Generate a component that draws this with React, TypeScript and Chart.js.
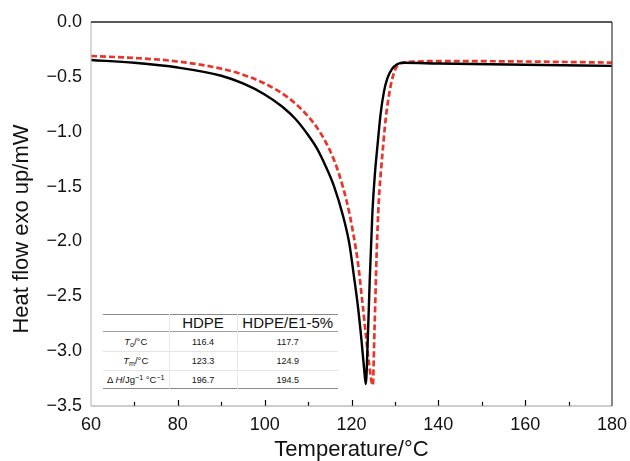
import React, { useEffect, useRef } from "react";
import { Chart, registerables } from "chart.js";

Chart.register(...registerables);

// HDPE (black, solid)
const hdpeT = [60, 70, 80, 90, 95, 100, 104, 107, 110, 112, 114, 116, 118, 119.5, 120.5, 121.5, 122.3, 122.9, 123.3, 123.7, 124.2, 124.8, 125.4, 126.0, 126.7, 127.5, 128.3, 129.3, 130.5, 132, 140, 160, 180];
const hdpeHF = [-0.346, -0.372, -0.415, -0.49, -0.56, -0.66, -0.77, -0.88, -1.03, -1.15, -1.31, -1.5, -1.76, -2.02, -2.3, -2.6, -2.9, -3.16, -3.3, -2.95, -2.35, -1.75, -1.38, -1.12, -0.84, -0.63, -0.51, -0.43, -0.385, -0.372, -0.378, -0.39, -0.4];

// HDPE/E1-5% (red, dashed)
const e15T = [60, 70, 80, 90, 95, 100, 104, 107, 110, 112, 114, 116, 118, 119.5, 120.5, 121.5, 122.5, 123.3, 124.0, 124.9, 125.3, 125.8, 126.3, 126.8, 127.2, 127.7, 128.2, 128.8, 129.3, 130, 130.7, 132, 134.2, 140, 160, 180];
const e15HF = [-0.31, -0.328, -0.36, -0.425, -0.48, -0.56, -0.65, -0.74, -0.86, -0.96, -1.09, -1.26, -1.5, -1.74, -1.95, -2.2, -2.55, -2.85, -3.1, -3.31, -2.8, -2.1, -1.62, -1.35, -1.17, -0.95, -0.78, -0.63, -0.53, -0.44, -0.39, -0.37, -0.362, -0.356, -0.36, -0.37];

const xMin = 60, xMax = 180, xMajorStep = 20, xMinorStep = 10;
const yMin = -3.5, yMax = 0, yStep = 0.5;
const xTitle = "Temperature/°C";
const yTitle = "Heat flow exo up/mW";

const tableHeader = ["", "HDPE", "HDPE/E1-5%"];
const tableHDPE = ["116.4", "123.3", "196.7"];
const tableE15 = ["117.7", "124.9", "194.5"];

const FONT = "'Liberation Sans', Arial, Helvetica, sans-serif";

const framePlugin = {
  id: "frame",
  afterDatasetsDraw(chart: any) {
    const { ctx, chartArea: a, scales } = chart;
    const xs = scales.x;
    ctx.save();
    ctx.strokeStyle = "#000";
    ctx.lineWidth = 1.2;
    for (let v = xMin + xMinorStep; v < xMax; v += xMinorStep) {
      const px = Math.round(xs.getPixelForValue(v)) + 0.5;
      const len = (v - xMin) % xMajorStep === 0 ? 6 : 4;
      ctx.beginPath();
      ctx.moveTo(px, a.bottom);
      ctx.lineTo(px, a.bottom - len);
      ctx.stroke();
    }
    const line = (x1: number, y1: number, x2: number, y2: number, c: string, w: number) => {
      ctx.strokeStyle = c;
      ctx.lineWidth = w;
      ctx.beginPath();
      ctx.moveTo(x1, y1);
      ctx.lineTo(x2, y2);
      ctx.stroke();
    };
    line(a.left, a.bottom, a.right, a.bottom, "#9a9a9a", 1.2);
    line(a.left, a.top, a.left, a.bottom, "#bdbdbd", 1.2);
    line(a.right, a.top, a.right, a.bottom, "#555", 1.4);
    line(a.left, a.top, a.right, a.top, "#222", 1.6);
    // y-axis title, slightly below the plot's centre as in the reference
    ctx.fillStyle = "#111";
    ctx.font = `22px ${FONT}`;
    ctx.textAlign = "center";
    ctx.textBaseline = "middle";
    ctx.translate(22, (a.top + a.bottom) / 2 + 15);
    ctx.rotate(-Math.PI / 2);
    ctx.fillText(yTitle, 0, 0);
    ctx.restore();
  },
};

export default function App() {
  const ref = useRef<HTMLCanvasElement | null>(null);

  useEffect(() => {
    if (!ref.current) return;
    const chart = new Chart(ref.current, {
      type: "scatter",
      data: {
        datasets: [
          {
            label: "HDPE",
            data: hdpeT.map((t, i) => ({ x: t, y: hdpeHF[i] })),
            showLine: true,
            borderColor: "#000",
            borderWidth: 2.4,
            pointRadius: 0,
            cubicInterpolationMode: "monotone",
          },
          {
            label: "HDPE/E1-5%",
            data: e15T.map((t, i) => ({ x: t, y: e15HF[i] })),
            showLine: true,
            borderColor: "#e8352b",
            borderWidth: 2.7,
            borderDash: [6, 3],
            pointRadius: 0,
            cubicInterpolationMode: "monotone",
          },
        ],
      },
      options: {
        animation: false,
        responsive: false,
        maintainAspectRatio: false,
        layout: { padding: { left: 0, right: 18, top: 22, bottom: 0 } },
        plugins: { legend: { display: false }, tooltip: { enabled: false } },
        scales: {
          x: {
            type: "linear",
            min: xMin,
            max: xMax,
            afterFit: (s: any) => {
              s.height = 55;
              s.paddingLeft = 0;
              s.paddingRight = 0;
            },
            ticks: {
              stepSize: xMajorStep,
              color: "#111",
              padding: 8,
              maxRotation: 0,
              font: { family: FONT, size: 18 },
            },
            grid: { display: false, drawTicks: false },
            border: { display: false },
            title: {
              display: true,
              text: xTitle,
              color: "#111",
              padding: 0,
              font: { family: FONT, size: 22, lineHeight: 1 },
            },
          },
          y: {
            type: "linear",
            min: yMin,
            max: yMax,
            afterFit: (s: any) => {
              s.width = 91;
              s.paddingTop = 0;
              s.paddingBottom = 0;
            },
            ticks: {
              stepSize: yStep,
              color: "#111",
              padding: 9,
              font: { family: FONT, size: 18 },
              callback: (v: any) => Number(v).toFixed(1).replace("-", "\u2212"),
            },
            grid: { display: false, drawTicks: false },
            border: { display: false },
            title: { display: false },
          },
        },
      },
      plugins: [framePlugin],
    });
    return () => chart.destroy();
  }, []);

  const cellBase: React.CSSProperties = {
    padding: 0,
    textAlign: "center",
    verticalAlign: "middle",
    color: "#111",
    whiteSpace: "nowrap",
  };
  const sub: React.CSSProperties = { fontSize: "0.75em", verticalAlign: "-0.3em", lineHeight: 0 };
  const sup: React.CSSProperties = { fontSize: "0.75em", verticalAlign: "0.45em", lineHeight: 0 };
  const rowLabels = [
    <span><i>T</i><span style={sub}>o</span>/°C</span>,
    <span><i>T</i><span style={sub}>m</span>/°C</span>,
    <span>Δ <i>H</i>/Jg<span style={sup}>−1</span> °C<span style={sup}>−1</span></span>,
  ];
  const rowHeights = [20, 19, 18];

  return (
    <div style={{ position: "fixed", left: 0, top: 0, width: 630, height: 461, background: "#fff" }}>
      <canvas ref={ref} width={630} height={461} style={{ display: "block", width: 630, height: 461 }} />
      <div style={{ position: "absolute", left: 103, top: 314, width: 235, background: "#fff", fontFamily: FONT }}>
        <table style={{ borderCollapse: "collapse", width: 235, tableLayout: "fixed" }}>
          <colgroup>
            <col style={{ width: 66 }} />
            <col style={{ width: 68 }} />
            <col style={{ width: 101 }} />
          </colgroup>
          <tbody>
            <tr style={{ height: 17, borderTop: "1.5px solid #8a8a8a", borderBottom: "1px solid #a0a0a0" }}>
              {tableHeader.map((h, i) => (
                <td key={i} style={{ ...cellBase, fontSize: 15, lineHeight: "16px", borderLeft: i > 0 ? "1px solid #e8e8e8" : "none" }}>{h}</td>
              ))}
            </tr>
            {rowLabels.map((lab, r) => (
              <tr
                key={r}
                style={{
                  height: rowHeights[r],
                  borderBottom: r === rowLabels.length - 1 ? "1.5px solid #8a8a8a" : "1px solid #e4e4e4",
                }}
              >
                <td style={{ ...cellBase, fontSize: 9.5, lineHeight: "12px" }}>{lab}</td>
                <td style={{ ...cellBase, fontSize: 9, lineHeight: "12px", borderLeft: "1px solid #e8e8e8" }}>{tableHDPE[r]}</td>
                <td style={{ ...cellBase, fontSize: 9, lineHeight: "12px", borderLeft: "1px solid #e8e8e8" }}>{tableE15[r]}</td>
              </tr>
            ))}
          </tbody>
        </table>
      </div>
    </div>
  );
}
